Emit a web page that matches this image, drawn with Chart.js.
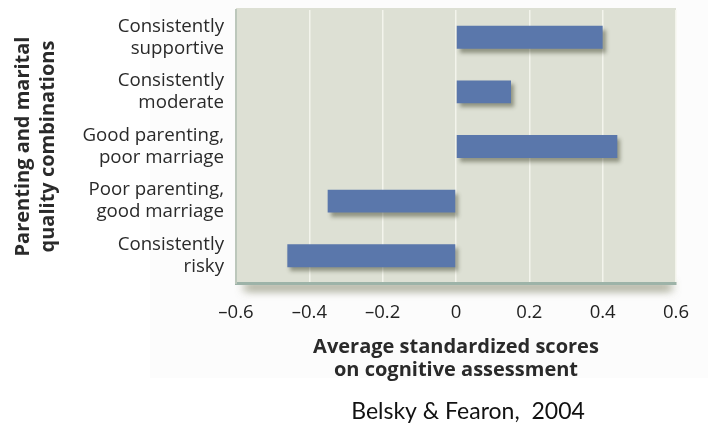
<!DOCTYPE html>
<html>
<head>
<meta charset="utf-8">
<script src="https://cdn.jsdelivr.net/npm/chart.js@4/dist/chart.umd.min.js"></script>
<style>
  html, body { margin: 0; padding: 0; background: #fff; }
  #wrap { width: 708px; height: 436px; }
</style>
</head>
<body>
<div id="wrap"><canvas id="chart" width="708" height="436"></canvas></div>
<script>
// categories, top to bottom
const groups = [
  ["Consistently", "supportive"],
  ["Consistently", "moderate"],
  ["Good parenting,", "poor marriage"],
  ["Poor parenting,", "good marriage"],
  ["Consistently", "risky"]
];
const scores = [0.40, 0.15, 0.44, -0.35, -0.46];
const xTitle = ["Average standardized scores", "on cognitive assessment"];
const yTitle = ["Parenting and marital", "quality combinations"];
const source = "Belsky & Fearon,  2004";

const BAR = "#5a77ab";
const PLOT_BG = "#dde0d4";
const TEXT = "#2a2a2a";

// light page panel + plot background + shadow under the plot
const backdrop = {
  id: "backdrop",
  beforeDraw(chart) {
    const { ctx, chartArea: a } = chart;
    ctx.save();
    ctx.fillStyle = "#fcfcfc";
    ctx.fillRect(150, 0, chart.width - 150, 378);

    ctx.shadowColor = "rgba(85,90,50,0.75)";
    ctx.shadowBlur = 10;
    ctx.shadowOffsetY = 7;
    ctx.fillStyle = "#8a9a80";
    ctx.fillRect(a.left + 8, a.bottom - 6, a.right - a.left - 12, 6);
    ctx.shadowColor = "transparent";

    ctx.fillStyle = PLOT_BG;
    ctx.fillRect(a.left, a.top - 2, a.right - a.left, a.bottom - a.top + 2);
    ctx.restore();
  }
};

const barShadow = {
  id: "barShadow",
  beforeDatasetsDraw(chart) {
    const ctx = chart.ctx;
    ctx.save();
    ctx.shadowColor = "rgba(50,55,30,0.45)";
    ctx.shadowBlur = 4;
    ctx.shadowOffsetX = 3;
    ctx.shadowOffsetY = 4;
  },
  afterDatasetsDraw(chart) {
    chart.ctx.restore();
  }
};

const credit = {
  id: "credit",
  afterDraw(chart) {
    const { ctx, chartArea: a } = chart;
    ctx.save();
    ctx.font = "400 23px Lato";
    ctx.fillStyle = "#111";
    ctx.textAlign = "center";
    ctx.textBaseline = "middle";
    ctx.fillText(source, (a.left + a.right) / 2 + 12, chart.height - 24);
    ctx.restore();
  }
};

function fmt(v) {
  const r = Math.round(v * 10) / 10;
  if (r === 0) return "0";
  return (r < 0 ? "\u2013" : "") + Math.abs(r).toFixed(1);
}

function draw() {
  new Chart(document.getElementById("chart"), {
    type: "bar",
    data: {
      labels: groups,
      datasets: [{
        data: scores,
        backgroundColor: BAR,
        borderWidth: 0,
        barPercentage: 0.42,
        categoryPercentage: 1
      }]
    },
    options: {
      indexAxis: "y",
      responsive: false,
      animation: false,
      layout: { padding: { top: 10, right: 32, bottom: 50, left: 0 } },
      plugins: {
        legend: { display: false },
        tooltip: { enabled: false }
      },
      scales: {
        x: {
          min: -0.6,
          max: 0.6,
          afterFit(scale) { scale.height = 103; },
          ticks: {
            stepSize: 0.2,
            padding: 19,
            color: "#222",
            font: { family: "Open Sans", size: 18.5 },
            callback: v => fmt(v)
          },
          grid: { color: "#f3f4ec", lineWidth: 1.5, drawTicks: false },
          border: { color: "#9db3a8", width: 3 },
          title: {
            display: true,
            text: xTitle,
            color: TEXT,
            font: { family: "Open Sans", size: 20, weight: "bold", lineHeight: 1.15 },
            padding: { top: 0, bottom: 4 }
          }
        },
        y: {
          afterFit(scale) {
            scale.width = 236;
            scale.paddingTop = 0;
            scale.paddingBottom = 0;
          },
          ticks: {
            autoSkip: false,
            padding: 12,
            color: TEXT,
            font: { family: "Open Sans", size: 18.7, lineHeight: 1.18 }
          },
          grid: { display: false, drawTicks: false },
          border: { color: "#bcc7bb", width: 2 },
          title: {
            display: true,
            text: yTitle,
            color: TEXT,
            font: { family: "Open Sans", size: 20, weight: "bold", lineHeight: 1.25 },
            padding: { top: 11, bottom: 0 }
          }
        }
      }
    },
    plugins: [backdrop, barShadow, credit]
  });
}

Promise.all([
  document.fonts.load("18px 'Open Sans'"),
  document.fonts.load("bold 20px 'Open Sans'"),
  document.fonts.load("23px Lato")
]).then(draw, draw);
</script>
</body>
</html>
